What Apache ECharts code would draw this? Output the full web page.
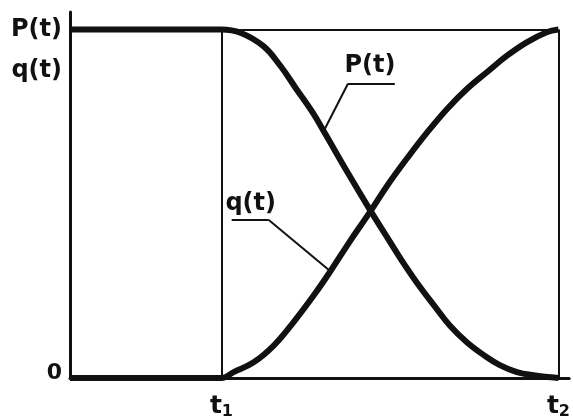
<!DOCTYPE html>
<html>
<head>
<meta charset="utf-8">
<script src="https://cdn.jsdelivr.net/npm/echarts@6/dist/echarts.min.js"></script>
<style>
  html, body { margin: 0; padding: 0; background: #fff; }
  #main { width: 573px; height: 420px; }
</style>
</head>
<body>
<div id="main"></div>
<script>
// t in units where t2 = 100, values normalised to 1
const pT = [0, 31, 35.0, 39.6, 43.1, 46.3, 49.8, 52.4, 56.9, 61.6, 65.0, 67.7, 71.1, 74.6, 77.8, 81.3, 84.8, 88.0, 91.5, 94.9, 100];
const pV = [1, 1, 0.99, 0.952, 0.895, 0.83, 0.759, 0.697, 0.588, 0.478, 0.402, 0.342, 0.272, 0.207, 0.15, 0.102, 0.065, 0.037, 0.017, 0.008, 0];
const qT = [0, 31, 33.5, 37.6, 41.7, 45.7, 49.8, 53.3, 57.3, 61.6, 65.0, 69.1, 73.2, 77.2, 81.3, 85.4, 89.4, 93.5, 97.6, 100];
const qV = [0, 0, 0.017, 0.045, 0.093, 0.159, 0.235, 0.306, 0.392, 0.48, 0.553, 0.632, 0.706, 0.772, 0.83, 0.878, 0.924, 0.963, 0.992, 1];
const t1 = 31;
const t2 = 100;
const xTickValues = [t1, t2];
const xTickLabels = ["1", "2"];
const yTickValues = [0, 0.881, 1];
const yTickLabels = ["0", "q(t)", "P(t)"];

// annotation leaders (data coords)
const pLeader = [[52.0, 0.71], [56.9, 0.844], [66.5, 0.844]];
const qLeader = [[33.1, 0.453], [40.7, 0.453], [53.0, 0.31]];
const pLabelAt = [61.4, 0.897];
const qLabelAt = [37.0, 0.50];

const pairs = (t, v) => t.map((x, i) => [x, v[i]]);
const segs = pts => pts.slice(1).map((p, i) => [{ coord: pts[i] }, { coord: p }]);

var FONT = "DejaVu Sans";
var INK = "#111";

var myChart = echarts.init(document.getElementById("main"), null, { renderer: "canvas" });
myChart.setOption({
  animation: false,
  backgroundColor: "#fff",
  grid: { left: 70, right: 0, top: 12, bottom: 37 },
  xAxis: {
    type: "value",
    min: 0,
    max: 102.2,
    splitLine: { show: false },
    axisTick: { show: false },
    axisLine: { show: true, lineStyle: { color: INK, width: 3 } },
    axisLabel: {
      customValues: xTickValues,
      margin: 14,
      formatter: function(v) {
        var i = xTickValues.indexOf(v);
        return "{t|t}{s|" + xTickLabels[i] + "}";
      },
      rich: {
        t: { fontFamily: FONT, fontWeight: "bold", fontSize: 25, color: INK },
        s: { fontFamily: FONT, fontWeight: "bold", fontSize: 16, color: INK, verticalAlign: "bottom", padding: [12, 0, 0, 0] }
      }
    }
  },
  yAxis: {
    type: "value",
    min: 0,
    max: 1.05,
    splitLine: { show: false },
    axisTick: { show: false },
    axisLine: { show: true, lineStyle: { color: INK, width: 3 } },
    axisLabel: {
      customValues: yTickValues,
      margin: 8,
      formatter: function(v) {
        var i = yTickValues.indexOf(v);
        return i === 0 ? "{z|" + yTickLabels[i] + "}" : "{b|" + yTickLabels[i] + "}";
      },
      rich: {
        b: { fontFamily: FONT, fontWeight: "bold", fontSize: 24, color: INK },
        z: { fontFamily: FONT, fontWeight: "bold", fontSize: 22, color: INK, padding: [0, 0, 10, 0] }
      }
    }
  },
  series: [
    {
      name: "P(t)",
      type: "line",
      data: pairs(pT, pV),
      showSymbol: false,
      smooth: 0.4,
      lineStyle: { color: INK, width: 6 },
      z: 5,
      markLine: {
        silent: true,
        symbol: "none",
        label: { show: false },
        lineStyle: { color: INK, width: 2, type: "solid" },
        data: [
          [{ coord: [0, 1] }, { coord: [t2, 1] }],
          [{ coord: [t2, 0] }, { coord: [t2, 1] }],
          [{ coord: [t1, 0] }, { coord: [t1, 1] }]
        ].concat(segs(pLeader), segs(qLeader))
      },
      markPoint: {
        silent: true,
        symbol: "circle",
        symbolSize: 0,
        label: {
          show: true,
          position: "inside",
          fontFamily: FONT,
          fontWeight: "bold",
          fontSize: 24,
          color: INK,
          formatter: function(p) { return p.name; }
        },
        data: [
          { name: "P(t)", coord: pLabelAt },
          { name: "q(t)", coord: qLabelAt }
        ]
      }
    },
    {
      name: "q(t)",
      type: "line",
      data: pairs(qT, qV),
      showSymbol: false,
      smooth: 0.4,
      lineStyle: { color: INK, width: 6 },
      z: 5
    }
  ]
});
</script>
</body>
</html>
